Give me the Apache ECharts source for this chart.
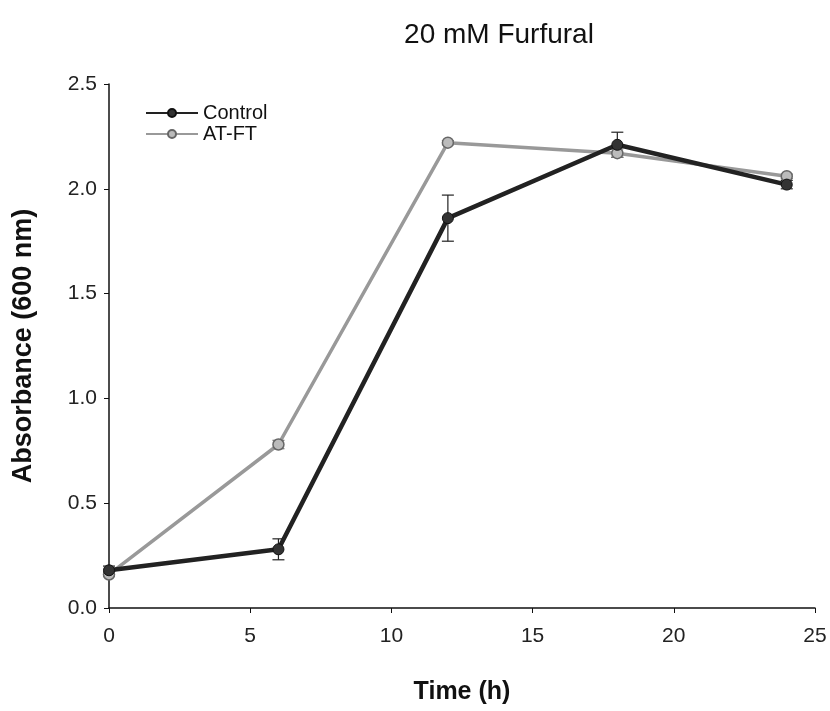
<!DOCTYPE html>
<html>
<head>
<meta charset="utf-8">
<script src="https://cdn.jsdelivr.net/npm/echarts@6/dist/echarts.min.js"></script>
<style>
  html, body { margin: 0; padding: 0; background: #fff; }
  #chart { width: 830px; height: 711px; }
</style>
</head>
<body>
<div id="chart"></div>
<script>
// time points (h)
var times = [0, 6, 12, 18, 24];
var control = [0.18, 0.28, 1.86, 2.21, 2.02];
var controlErr = [0.02, 0.05, 0.11, 0.06, 0.02];
var atft = [0.16, 0.78, 2.22, 2.17, 2.06];
var atftErr = [0.01, 0.02, 0.01, 0.02, 0.01];

var chart = echarts.init(document.getElementById('chart'));

function errBars(vals, errs, color) {
    return {
        type: 'custom',
        silent: true,
        z: 1,
        data: times.map(function (t, i) { return [t, vals[i] - errs[i], vals[i] + errs[i]]; }),
        renderItem: function (params, api) {
            var lo = api.coord([api.value(0), api.value(1)]);
            var hi = api.coord([api.value(0), api.value(2)]);
            var w = 6;
            var st = { stroke: color, lineWidth: 1.2 };
            return {
                type: 'group',
                children: [
                    { type: 'line', shape: { x1: lo[0], y1: lo[1], x2: hi[0], y2: hi[1] }, style: st },
                    { type: 'line', shape: { x1: lo[0] - w, y1: lo[1], x2: lo[0] + w, y2: lo[1] }, style: st },
                    { type: 'line', shape: { x1: hi[0] - w, y1: hi[1], x2: hi[0] + w, y2: hi[1] }, style: st }
                ]
            };
        }
    };
}

var option = {
    animation: false,
    backgroundColor: '#fff',
    textStyle: { fontFamily: 'Liberation Sans, Arial, sans-serif' },
    title: {
        text: '20 mM Furfural',
        left: 494,
        top: 16,
        textAlign: 'center',
        textStyle: { fontSize: 28, fontWeight: 'normal', color: '#111' }
    },
    legend: {
        left: 140,
        top: 98,
        orient: 'vertical',
        itemWidth: 52,
        itemHeight: 10,
        itemGap: 1,
        textStyle: { fontSize: 20, color: '#111' },
        data: ['Control', 'AT-FT']
    },
    grid: { left: 109, right: 15, top: 84, bottom: 103 },
    xAxis: {
        type: 'value',
        min: 0, max: 25, interval: 5,
        name: 'Time (h)',
        nameLocation: 'middle',
        nameGap: 72,
        nameTextStyle: { fontSize: 25, fontWeight: 'bold', color: '#111' },
        axisLine: { lineStyle: { color: '#111', width: 1.5 } },
        axisTick: { lineStyle: { color: '#111' }, length: 5 },
        axisLabel: { fontSize: 21, color: '#222', margin: 18 },
        splitLine: { show: false }
    },
    yAxis: {
        type: 'value',
        min: 0, max: 2.5, interval: 0.5,
        name: 'Absorbance (600 nm)',
        nameLocation: 'middle',
        nameGap: 72,
        nameTextStyle: { fontSize: 27, fontWeight: 'bold', color: '#111' },
        axisLine: { show: true, lineStyle: { color: '#111', width: 1.5 } },
        axisTick: { show: true, lineStyle: { color: '#111' }, length: 5 },
        axisLabel: { fontSize: 21, color: '#222', margin: 12, formatter: function (v) { return v.toFixed(1); } },
        splitLine: { show: false }
    },
    series: [
        errBars(control, controlErr, '#222'),
        errBars(atft, atftErr, '#777'),
        {
            name: 'AT-FT',
            type: 'line',
            z: 2,
            data: times.map(function (t, i) { return [t, atft[i]]; }),
            symbol: 'circle',
            symbolSize: 11,
            itemStyle: { color: '#bbb', borderColor: '#666', borderWidth: 1.5 },
            lineStyle: { color: '#999', width: 3.5 }
        },
        {
            name: 'Control',
            type: 'line',
            z: 3,
            data: times.map(function (t, i) { return [t, control[i]]; }),
            symbol: 'circle',
            symbolSize: 11,
            itemStyle: { color: '#333', borderColor: '#111', borderWidth: 1 },
            lineStyle: { color: '#222', width: 4.5 }
        }
    ]
};

chart.setOption(option);
</script>
</body>
</html>
